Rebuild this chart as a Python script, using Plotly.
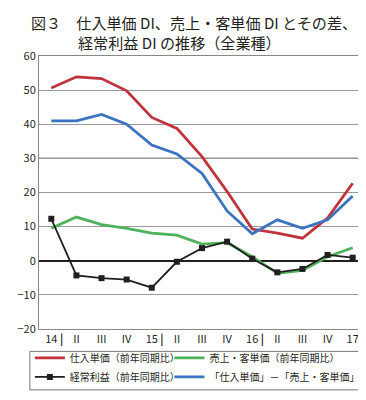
import plotly.graph_objects as go

quarters = ["14", "II", "III", "IV", "15", "II", "III", "IV", "16", "II", "III", "IV", "17"]
year_marks = [True, False, False, False, True, False, False, False, True, False, False, False, True]

purchase_price = [50.6, 53.9, 53.4, 49.8, 42.0, 38.8, 30.5, 20.3, 9.3, 8.1, 6.6, 12.5, 22.7]
sales_price = [9.5, 12.8, 10.6, 9.5, 8.1, 7.5, 4.9, 5.3, 1.2, -3.7, -2.8, 1.2, 3.8]
ordinary_profit = [12.3, -4.3, -5.1, -5.5, -7.9, -0.3, 3.7, 5.6, 0.6, -3.4, -2.4, 1.7, 0.9]
price_gap = [41.0, 41.0, 42.9, 40.0, 33.9, 31.3, 25.6, 14.6, 7.9, 12.0, 9.5, 12.0, 19.0]

names = ["仕入単価（前年同期比）", "売上・客単価（前年同期比）",
         "経常利益（前年同期比）", "「仕入単価」－「売上・客単価」"]
colors = ["#c0323c", "#4db25a", "#231f20", "#3b73c0"]

y_ticks = [-20, -10, 0, 10, 20, 30, 40, 50, 60]

FONT = "Noto Sans CJK JP"
x = list(range(len(quarters)))

ticktext = []
for q, m in zip(quarters, year_marks):
    if m:
        ticktext.append("<span style='color:rgba(0,0,0,0)'><b>|</b> </span>" + q + " <b>|</b>")
    else:
        ticktext.append(q)

fig = go.Figure()
fig.add_trace(go.Scatter(x=x, y=purchase_price, name=names[0], mode="lines",
                         line=dict(color=colors[0], width=2.8), legend="legend"))
fig.add_trace(go.Scatter(x=x, y=sales_price, name=names[1], mode="lines",
                         line=dict(color=colors[1], width=2.8), legend="legend2"))
fig.add_trace(go.Scatter(x=x, y=ordinary_profit, name=names[2], mode="lines+markers",
                         line=dict(color=colors[2], width=1.8),
                         marker=dict(symbol="square", size=6, color=colors[2]), legend="legend"))
fig.add_trace(go.Scatter(x=x, y=price_gap, name=names[3], mode="lines",
                         line=dict(color=colors[3], width=2.8), legend="legend2"))

fig.add_shape(type="line", xref="paper", x0=0, x1=1, yref="y", y0=30, y1=30,
              line=dict(color="#231f20", width=1.2), layer="below")
# legend frame
fig.add_shape(type="rect", xref="paper", yref="paper", x0=-0.028, x1=1.0, y0=-0.223, y1=-0.082,
              line=dict(color="#777", width=1), fillcolor="rgba(0,0,0,0)")

fig.add_annotation(text="図３　仕入単価 DI、売上・客単価 DI とその差、", xref="paper", yref="paper",
                   x=-0.03, y=1.0, yshift=47, xanchor="left", yanchor="top", showarrow=False,
                   font=dict(family=FONT, size=15.1, color="#231f20"))
fig.add_annotation(text="経常利益 DI の推移（全業種）", xref="paper", yref="paper",
                   x=0.113, y=1.0, yshift=27, xanchor="left", yanchor="top", showarrow=False,
                   font=dict(family=FONT, size=15.1, color="#231f20"))

legend_common = dict(orientation="v", yanchor="top", xanchor="left",
                     font=dict(family=FONT, size=10, color="#231f20"),
                     bgcolor="rgba(0,0,0,0)", borderwidth=0, itemwidth=30, tracegroupgap=0)

fig.update_layout(
    width=366, height=400,
    margin=dict(l=31, r=9, t=48, b=79, autoexpand=False),
    paper_bgcolor="white", plot_bgcolor="white",
    font=dict(family=FONT, size=11, color="#231f20"),
    showlegend=True,
    legend=dict(x=-0.028, y=-0.053, **legend_common),
    legend2=dict(x=0.40, y=-0.053, **legend_common),
    xaxis=dict(tickmode="array", tickvals=x, ticktext=ticktext, range=[-0.49, 12.49],
               showgrid=False, showline=True, linecolor="#888", linewidth=1, mirror=True,
               ticks="", tickfont=dict(size=11), zeroline=False),
    yaxis=dict(tickmode="array", tickvals=y_ticks, range=[-20, 60],
               showgrid=True, gridcolor="#999", gridwidth=1,
               showline=True, linecolor="#888", linewidth=1, mirror=True,
               zeroline=True, zerolinecolor="#231f20", zerolinewidth=2,
               ticks="", tickfont=dict(size=11)),
)

fig.write_html("out.html")
